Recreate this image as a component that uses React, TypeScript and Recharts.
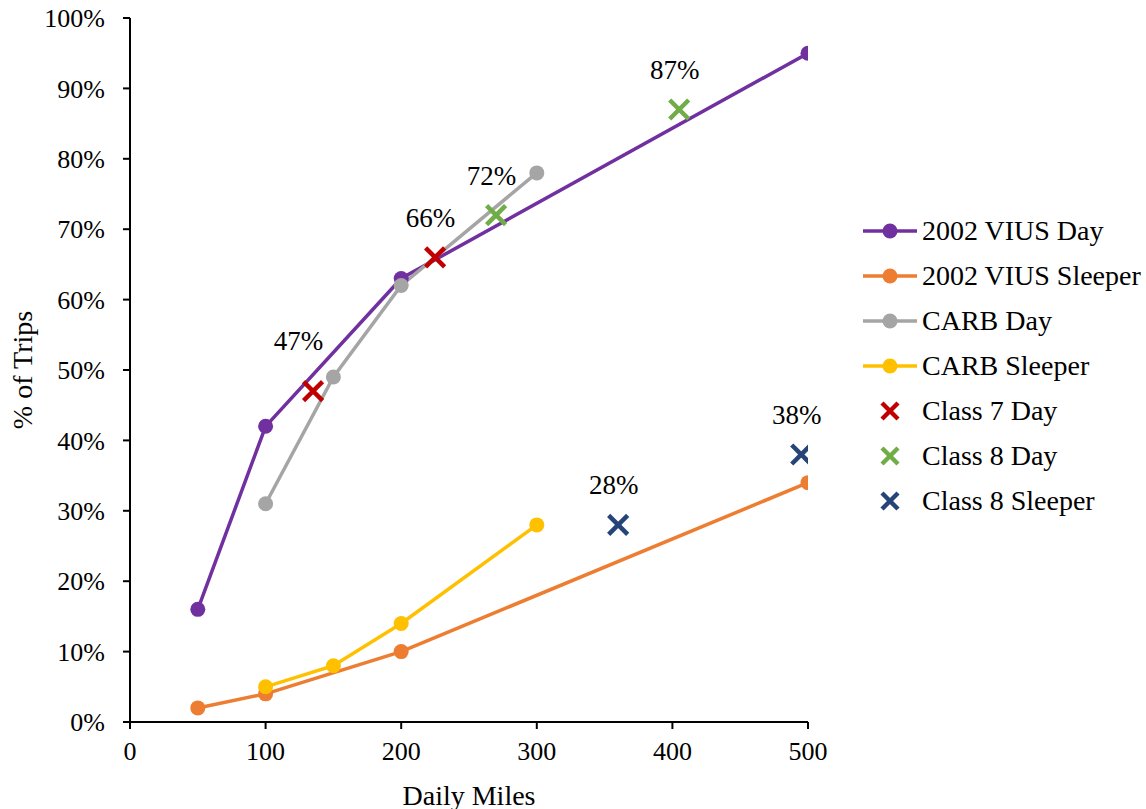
import React from 'react';
import {
  ComposedChart, Line, Scatter, XAxis, YAxis, LabelList, Label,
} from 'recharts';

// Daily miles vs. share of trips
const viusDay = [
  { x: 50, y: 0.16 }, { x: 100, y: 0.42 }, { x: 200, y: 0.63 }, { x: 500, y: 0.95 },
];
const viusSleeper = [
  { x: 50, y: 0.02 }, { x: 100, y: 0.04 }, { x: 200, y: 0.10 }, { x: 500, y: 0.34 },
];
const carbDay = [
  { x: 100, y: 0.31 }, { x: 150, y: 0.49 }, { x: 200, y: 0.62 }, { x: 300, y: 0.78 },
];
const carbSleeper = [
  { x: 100, y: 0.05 }, { x: 150, y: 0.08 }, { x: 200, y: 0.14 }, { x: 300, y: 0.28 },
];
const class7Day = [{ x: 135, y: 0.47 }, { x: 225, y: 0.66 }];
const class8Day = [{ x: 270, y: 0.72 }, { x: 405, y: 0.87 }];
const class8Sleeper = [{ x: 360, y: 0.28 }, { x: 495, y: 0.38 }];

const xTicks = [0, 100, 200, 300, 400, 500];
const yTicks = [0, 0.1, 0.2, 0.3, 0.4, 0.5, 0.6, 0.7, 0.8, 0.9, 1];

const lineSeries = [
  { name: '2002 VIUS Day', data: viusDay, color: '#7030A0' },
  { name: '2002 VIUS Sleeper', data: viusSleeper, color: '#ED7D31' },
  { name: 'CARB Day', data: carbDay, color: '#A5A5A5' },
  { name: 'CARB Sleeper', data: carbSleeper, color: '#FFC000' },
];
const crossSeries = [
  { name: 'Class 7 Day', data: class7Day, color: '#C00000' },
  { name: 'Class 8 Day', data: class8Day, color: '#70AD47' },
  { name: 'Class 8 Sleeper', data: class8Sleeper, color: '#264478' },
];

const FONT = '"Liberation Serif", "Times New Roman", serif';
const pct = (v: number) => `${Math.round(v * 100)}%`;

const Cross = (color: string) => (props: any) => {
  const { cx, cy } = props;
  const h = 9.5;
  return (
    <g stroke={color} strokeWidth={4.5}>
      <line x1={cx - h} y1={cy - h} x2={cx + h} y2={cy + h} />
      <line x1={cx - h} y1={cy + h} x2={cx + h} y2={cy - h} />
    </g>
  );
};

const LegendBox = () => (
  <div style={{ position: 'absolute', left: 862, top: 208, fontFamily: FONT, fontSize: 28, color: '#000' }}>
    {[...lineSeries.map(s => ({ ...s, kind: 'line' })), ...crossSeries.map(s => ({ ...s, kind: 'cross' }))].map(s => (
      <div key={s.name} style={{ display: 'flex', alignItems: 'center', height: 45 }}>
        <svg width={60} height={30} style={{ flex: 'none' }}>
          {s.kind === 'line' ? (
            <g>
              <line x1={1} y1={15} x2={55} y2={15} stroke={s.color} strokeWidth={3.5} />
              <circle cx={28} cy={15} r={7.5} fill={s.color} />
            </g>
          ) : (
            <g stroke={s.color} strokeWidth={4.5}>
              <line x1={20} y1={7} x2={36} y2={23} />
              <line x1={20} y1={23} x2={36} y2={7} />
            </g>
          )}
        </svg>
        <span style={{ whiteSpace: 'nowrap' }}>{s.name}</span>
      </div>
    ))}
  </div>
);

// the 47% label sits a little further up and left in the original
const makeLabel = (nudge: Record<number, [number, number]>) => (props: any) => {
  const { x, y, value, index } = props;
  const [dx, dy] = nudge[index] || [0, 0];
  return (
    <text x={x + dx} y={y - 35 + dy} textAnchor="middle" dominantBaseline="central"
      fontFamily={FONT} fontSize={27} fill="#000">
      {pct(value)}
    </text>
  );
};
const labelNudges: Record<string, Record<number, [number, number]>> = {
  'Class 7 Day': { 0: [-10, -11] },
};

export default function App() {
  const tickStyle = { fontFamily: FONT, fontSize: 26, fill: '#000' };
  return (
    <div style={{ position: 'absolute', left: 0, top: 0, background: '#fff' }}>
      <ComposedChart width={1146} height={809} margin={{ top: 18, right: 338, bottom: 0, left: 0 }}>
        <XAxis
          type="number"
          dataKey="x"
          domain={[0, 500]}
          ticks={xTicks}
          tick={tickStyle}
          tickLine={{ stroke: '#000', strokeWidth: 2 }}
          axisLine={{ stroke: '#000', strokeWidth: 2 }}
          tickSize={7}
          tickMargin={13}
          height={87}
          allowDataOverflow
        >
          <Label
            content={(p: any) => (
              <text x={p.viewBox.x + p.viewBox.width / 2} y={795} textAnchor="middle" dominantBaseline="central"
                fontFamily={FONT} fontSize={28} fill="#000">Daily Miles</text>
            )}
          />
        </XAxis>
        <YAxis
          type="number"
          domain={[0, 1]}
          ticks={yTicks}
          tickFormatter={pct}
          tick={tickStyle}
          tickLine={{ stroke: '#000', strokeWidth: 2 }}
          axisLine={{ stroke: '#000', strokeWidth: 2 }}
          tickSize={7}
          tickMargin={18}
          width={130}
        >
          <Label
            content={(p: any) => {
              const cy = p.viewBox.y + p.viewBox.height / 2;
              return (
                <text x={22} y={cy} transform={`rotate(-90 22 ${cy})`} textAnchor="middle" dominantBaseline="central"
                  fontFamily={FONT} fontSize={28} fill="#000">% of Trips</text>
              );
            }}
          />
        </YAxis>
        {lineSeries.map(s => (
          <Line
            key={s.name}
            data={s.data}
            dataKey="y"
            name={s.name}
            stroke={s.color}
            strokeWidth={3.5}
            dot={{ r: 7.5, fill: s.color, stroke: s.color, strokeWidth: 0 }}
            activeDot={false}
            isAnimationActive={false}
          />
        ))}
        {crossSeries.map(s => (
          <Scatter
            key={s.name}
            data={s.data}
            dataKey="y"
            name={s.name}
            fill={s.color}
            shape={Cross(s.color)}
            isAnimationActive={false}
          >
            <LabelList dataKey="y" content={makeLabel(labelNudges[s.name] || {})} />
          </Scatter>
        ))}
      </ComposedChart>
      <LegendBox />
    </div>
  );
}
